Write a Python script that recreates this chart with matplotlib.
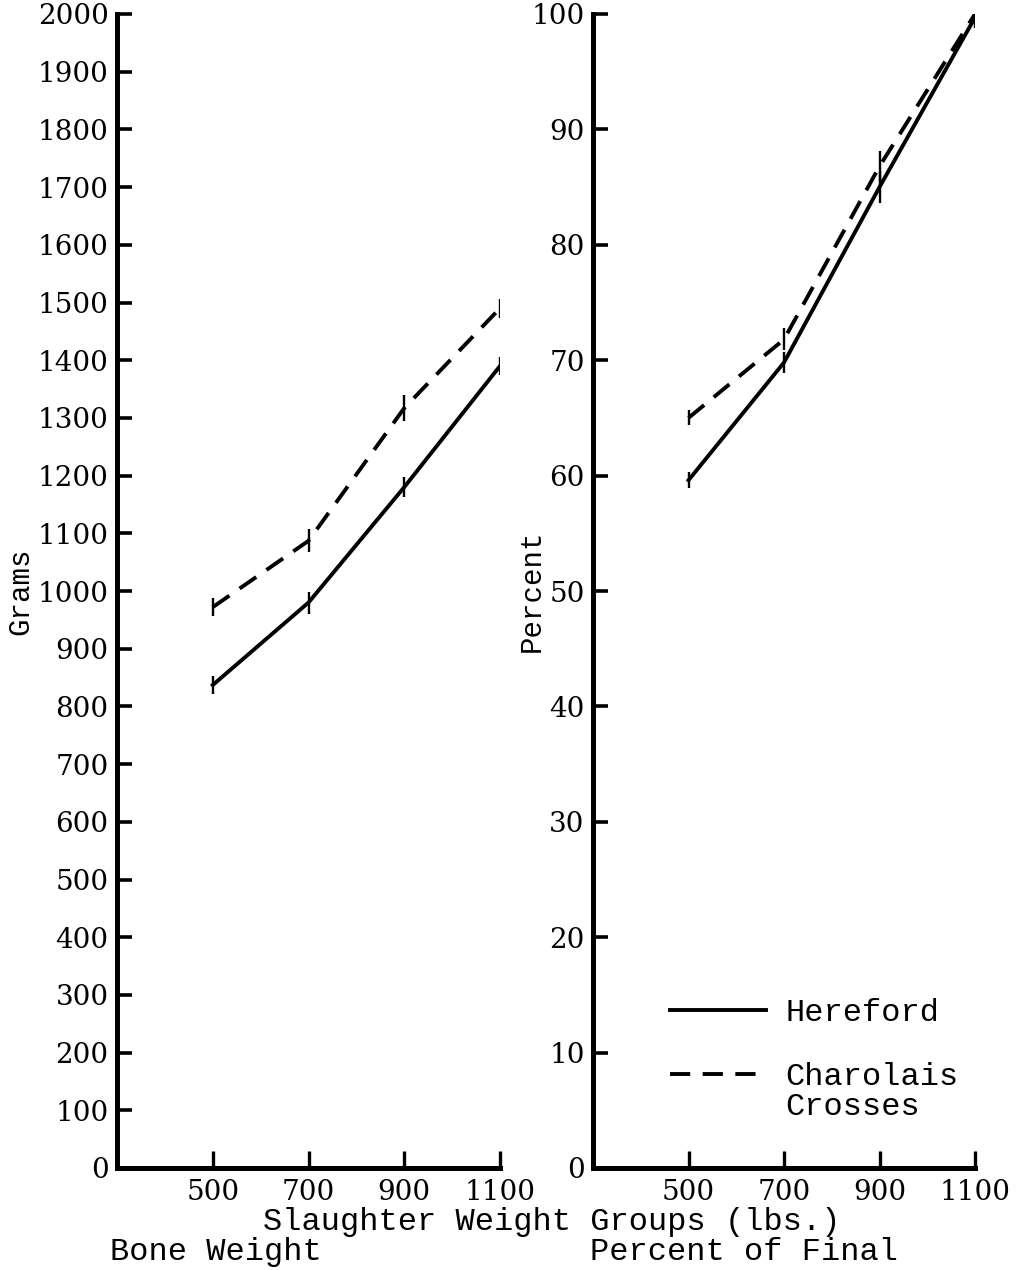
import matplotlib
matplotlib.use("Agg")
import matplotlib.pyplot as plt
from matplotlib.legend_handler import HandlerLine2D

# ---- data ----
weight_groups = [500, 700, 900, 1100]
bone_hereford = [837, 980, 1180, 1390]
bone_charolais = [972, 1087, 1317, 1490]
bone_hereford_err = [16, 19, 17, 16]
bone_charolais_err = [16, 20, 22, 16]
pct_hereford = [59.6, 69.8, 85.0, 99.7]
pct_charolais = [65.0, 71.8, 86.8, 100.0]
pct_hereford_err = [0.7, 0.9, 1.4, 0.9]
pct_charolais_err = [0.65, 0.95, 1.3, 0.9]
bone_ticks = list(range(0, 2001, 100))
pct_ticks = list(range(0, 101, 10))
series_names = ["Hereford", "Charolais\nCrosses"]

TXT = ["Liberation Mono", "DejaVu Sans Mono"]
NUM = ["DejaVu Serif"]
FS = 23

fig = plt.figure(figsize=(10.21, 12.70), dpi=100)
ax1 = fig.add_axes([117/1021, 1 - 1168/1270, 383/1021, 1154/1270])
ax2 = fig.add_axes([593/1021, 1 - 1168/1270, 382/1021, 1154/1270])

LW = 2.8
DASH = (5.2, 3.2)


def draw(ax, yh, yc, eh, ec):
    lh = ax.errorbar(weight_groups, yh, yerr=eh, color="black", lw=LW,
                     elinewidth=1.7, capsize=0)
    lc = ax.errorbar(weight_groups, yc, yerr=ec, color="black", lw=LW,
                     elinewidth=1.7, capsize=0)
    lc.lines[0].set_dashes(DASH)
    return lh.lines[0], lc.lines[0]


h1, c1 = draw(ax1, bone_hereford, bone_charolais, bone_hereford_err, bone_charolais_err)
h2, c2 = draw(ax2, pct_hereford, pct_charolais, pct_hereford_err, pct_charolais_err)

for ax, ticks, top in ((ax1, bone_ticks, 2000), (ax2, pct_ticks, 100)):
    ax.set_xlim(300, 1100)
    ax.set_ylim(0, top)
    ax.set_xticks(weight_groups)
    ax.set_xticklabels([str(v) for v in weight_groups], fontfamily=NUM, fontsize=20)
    ax.set_yticks(ticks)
    ax.set_yticklabels([str(v) for v in ticks], fontfamily=NUM, fontsize=20)
    for s in ("top", "right"):
        ax.spines[s].set_visible(False)
    for s in ("left", "bottom"):
        ax.spines[s].set_linewidth(3.6)
    ax.tick_params(axis="y", direction="in", length=11, width=2.6, pad=6)
    ax.tick_params(axis="x", direction="in", length=12, width=2.4, pad=8)
    ax.set_facecolor("white")

ax1.set_ylabel("Grams", fontfamily=TXT, fontsize=FS - 2)
ax1.yaxis.set_label_coords(-0.217, 0.5)
ax2.set_ylabel("Percent", fontfamily=TXT, fontsize=FS - 2)
ax2.yaxis.set_label_coords(-0.124, 0.5)


class TopAlignHandler(HandlerLine2D):
    def __init__(self, shift, **kw):
        super().__init__(**kw)
        self.shift = shift

    def create_artists(self, legend, orig_handle, xdescent, ydescent, width,
                       height, fontsize, trans):
        arts = super().create_artists(legend, orig_handle, xdescent, ydescent,
                                      width, height, fontsize, trans)
        for a in arts:
            a.set_ydata([y + self.shift * fontsize for y in a.get_ydata()])
        return arts


leg = ax2.legend([h2, c2], series_names, loc="upper left",
                 bbox_to_anchor=(670/1021, 1 - 998/1270),
                 bbox_transform=fig.transFigure, frameon=False,
                 prop={"family": TXT, "size": FS}, handlelength=3.0,
                 handletextpad=0.62, labelspacing=1.05, borderpad=0,
                 borderaxespad=0,
                 handler_map={c2: TopAlignHandler(0.55)})
for t in leg.get_texts():
    t.set_linespacing(1.0)

fig.text(552/1021, 1 - 1222/1270, "Slaughter Weight Groups (lbs.)",
         ha="center", va="center", fontfamily=TXT, fontsize=FS)
fig.text(110/1021, 1 - 1252/1270, "Bone Weight", ha="left", va="center",
         fontfamily=TXT, fontsize=FS)
fig.text(590/1021, 1 - 1252/1270, "Percent of Final", ha="left", va="center",
         fontfamily=TXT, fontsize=FS)

fig.savefig("out.png", dpi=100, facecolor="white")
